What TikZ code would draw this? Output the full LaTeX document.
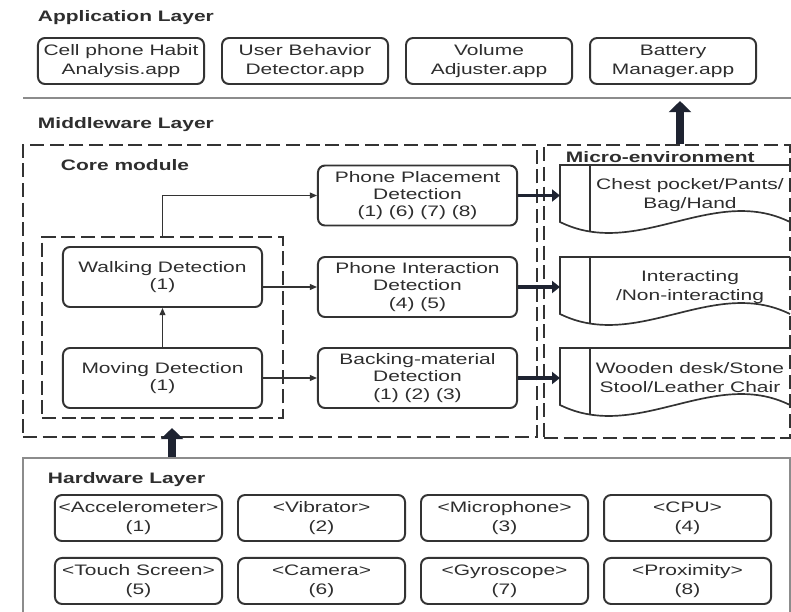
\documentclass[tikz,border=0pt]{standalone}
\usepackage{fontspec}
\setmainfont{Liberation Sans}[FakeStretch=1.38]
\usepackage{xcolor}
\definecolor{textmain}{HTML}{2E2E2E}
\definecolor{boxline}{HTML}{333333}
\definecolor{arrowdark}{HTML}{1E2331}
\definecolor{framegray}{HTML}{8C8C8C}
\usetikzlibrary{arrows.meta, positioning, fit}

\begin{document}
\begin{tikzpicture}[
        x=0.025cm, y=-0.025cm,
        font=\fontsize{10.8}{13.5}\selectfont,
        text=textmain,
        box/.style={
            rectangle,
            rounded corners=5pt,
            draw=boxline,
            line width=1.4pt,
            fill=white,
            align=center,
            minimum width=4.15cm,
            minimum height=1.15cm,
            inner sep=1pt
        },
        corebox/.style={box, minimum width=4.975cm, minimum height=1.5cm, font=\fontsize{10.8}{12.2}\selectfont},
        hwbox/.style={box, minimum width=4.175cm, minimum height=1.15cm},
        title/.style={anchor=west, font=\fontsize{10.8}{13}\selectfont\bfseries},
        dashbox/.style={rectangle, draw=boxline, line width=1.3pt, dash pattern=on 10pt off 4pt},
        thin arrow/.style={-{Triangle[length=0.18cm, width=0.15cm]}, draw=boxline, line width=0.8pt},
        env arrow/.style={-{Triangle[length=0.2cm, width=0.3cm]}, draw=arrowdark, line width=2.2pt},
        fat arrow/.style={-{Triangle[length=0.28cm, width=0.55cm]}, draw=arrowdark, line width=5pt},
        envshape/.style={draw=boxline, line width=1.2pt}
    ]
    \useasboundingbox (0,0) rectangle (791,612);

    % Application Layer
    \node[title] (apptitle) at (33,18) {Application Layer};
    \node[box] (habit) at (121,61) {Cell phone Habit\\Analysis.app};
    \node[box, right=0.4cm of habit] (behavior) {User Behavior\\Detector.app};
    \node[box, right=0.4cm of behavior] (volume) {Volume\\Adjuster.app};
    \node[box, right=0.4cm of volume] (battery) {Battery\\Manager.app};

    \draw[framegray, line width=1.6pt] (23,98) -- (791,98);

    % Middleware Layer
    \node[title] (midtitle) at (33,125) {Middleware Layer};
    \node[dashbox, minimum width=12.85cm, minimum height=7.3cm] (core) at (280,291) {};
    \node[dashbox, minimum width=6.15cm, minimum height=7.325cm] (micro) at (667,291.5) {};
    \node[title] (coretitle) at (56,165) {Core module};
    \node[title] (microtitle) at (561,157) {Micro-environment};

    \node[corebox] (walk) at (162.5,277) {Walking Detection\\(1)};
    \node[corebox] (move) at (162.5,378) {Moving Detection\\(1)};
    \node[dashbox, fit=(walk)(move), inner xsep=0.5cm, inner ysep=0.23cm] (inner) {};

    \node[corebox] (place) at (417.5,195.5) {Phone Placement\\Detection\\(1) (6) (7) (8)};
    \node[corebox] (inter) at (417.5,287) {Phone Interaction\\Detection\\(4) (5)};
    \node[corebox] (back) at (417.5,378) {Backing-material\\Detection\\(1) (2) (3)};

    \draw[thin arrow] (move.north) -- (walk.south);
    \draw[thin arrow] (walk.north |- inner.north) |- (place.west);
    \draw[thin arrow] (walk.east |- inter.west) -- (inter.west);
    \draw[thin arrow] (move.east) -- (back.west);

    % Micro-environment shapes
    \draw[envshape] (790,165) -- (560,165) -- (560,222) .. controls (637,260) and (713,184) .. (790,222);
    \draw[envshape] (590,165) -- (590,231.5);
    \node[align=center] (pocket) at (690,195.5) {Chest pocket/Pants/\\Bag/Hand};

    \draw[envshape] (790,257) -- (560,257) -- (560,314) .. controls (637,352) and (713,276) .. (790,314);
    \draw[envshape] (590,257) -- (590,323.5);
    \node[align=center] (interacting) at (690,287) {Interacting\\/Non-interacting};

    \draw[envshape] (790,348) -- (560,348) -- (560,405) .. controls (637,443) and (713,367) .. (790,405);
    \draw[envshape] (590,348) -- (590,414.5);
    \node[align=center] (material) at (690,378) {Wooden desk/Stone\\Stool/Leather Chair};

    \coordinate (pocketin) at (560,195.5);
    \coordinate (interin) at (560,287);
    \coordinate (materialin) at (560,378);
    \draw[env arrow] (place.east) -- (pocketin);
    \draw[env arrow] (inter.east) -- (interin);
    \draw[env arrow] (back.east) -- (materialin);

    % Hardware Layer
    \node[draw=framegray, line width=1.3pt, minimum width=19.175cm, minimum height=3.95cm, inner sep=0pt] (hw) at (406.5,537) {};
    \node[title] (hwtitle) at (43,480) {Hardware Layer};
    \node[hwbox] (acc) at (138.5,518) {<Accelerometer>\\(1)};
    \node[hwbox, right=0.35cm of acc] (vib) {<Vibrator>\\(2)};
    \node[hwbox, right=0.35cm of vib] (mic) {<Microphone>\\(3)};
    \node[hwbox, right=0.35cm of mic] (cpu) {<CPU>\\(4)};
    \node[hwbox, below=0.375cm of acc] (touch) {<Touch Screen>\\(5)};
    \node[hwbox, right=0.35cm of touch] (cam) {<Camera>\\(6)};
    \node[hwbox, right=0.35cm of cam] (gyro) {<Gyroscope>\\(7)};
    \node[hwbox, right=0.35cm of gyro] (prox) {<Proximity>\\(8)};

    % Layer links
    \coordinate (appdrop) at (680,101);
    \draw[fat arrow] (appdrop |- micro.north) -- (appdrop);
    \coordinate (hwrise) at (172,428);
    \draw[fat arrow] (hw.north -| hwrise) -- (hwrise);

\end{tikzpicture}
\end{document}
